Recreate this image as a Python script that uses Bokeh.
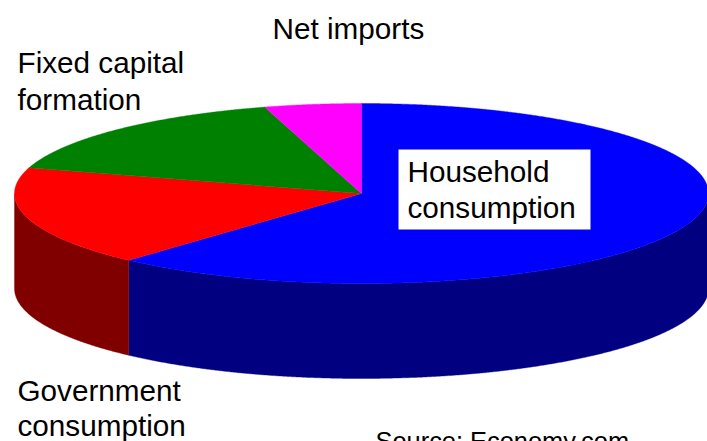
import numpy as np
from bokeh.plotting import figure
from bokeh.models import ColumnDataSource, Range1d
from bokeh.core.properties import value
from bokeh.embed import file_html
from bokeh.resources import INLINE

# shares, clockwise from twelve o'clock
categories = ["Household consumption", "Government consumption", "Fixed capital formation", "Net imports"]
shares = [61.7, 17.9, 15.9, 4.5]
top_colors = ["#0000ff", "#ff0000", "#008000", "#ff00ff"]
side_colors = ["#000080", "#800000", "#004000", "#800080"]

label_lines = ["Net imports", "Fixed capital", "formation", "Household", "consumption", "Government", "consumption"]
label_x = [272, 17, 17, 407, 407, 17, 17]
label_y = [28, 62, 99, 171, 207, 390, 425]
source_note = "Source: Economy.com"

CX, CY, RX, RY, DEPTH = 361, 193, 347, 90, 95

def rim(a0, a1):
    t = np.radians(np.linspace(a0, a1, max(2, int(abs(a1 - a0) * 4))))
    return CX + RX * np.sin(t), CY - RY * np.cos(t)

edges = np.concatenate([[0], np.cumsum(shares)]) * 360.0 / sum(shares)
spans = list(zip(edges[:-1], edges[1:]))

p = figure(width=707, height=441, output_backend="svg", toolbar_location=None,
           x_range=Range1d(0, 707), y_range=Range1d(441, 0), min_border=0,
           outline_line_color=None, background_fill_color="white", border_fill_color="white")
p.axis.visible = False
p.grid.visible = False

# side wall: only the front half (90 to 270 degrees) is visible
for (a0, a1), col in zip(spans, side_colors):
    lo, hi = max(a0, 90), min(a1, 270)
    if lo >= hi:
        continue
    x, y = rim(lo, hi)
    xs = np.concatenate([x, x[::-1]])
    ys = np.concatenate([y, (y + DEPTH)[::-1]])
    p.patch(xs, ys, fill_color=col, line_color=col, line_width=0.4)

# top face
for (a0, a1), col in zip(spans, top_colors):
    x, y = rim(a0, a1)
    xs = np.concatenate([[CX], x])
    ys = np.concatenate([[CY], y])
    p.patch(xs, ys, fill_color=col, line_color=col, line_width=0.4)

# white box behind the household label
p.quad(left=[398], right=[590], top=[149], bottom=[229], fill_color="white", line_color=None)

src = ColumnDataSource(dict(x=label_x, y=label_y, t=label_lines))
p.text("x", "y", text="t", source=src, text_font=value("Liberation Sans"), text_font_size="29.7px",
       text_color="black", text_baseline="alphabetic", text_align="left")
p.text([375], [440], text=[source_note], text_font=value("Liberation Sans"), text_font_size="25.4px",
       text_color="black", text_baseline="alphabetic", text_align="left")

open("out.html", "w").write(file_html(p, INLINE))
